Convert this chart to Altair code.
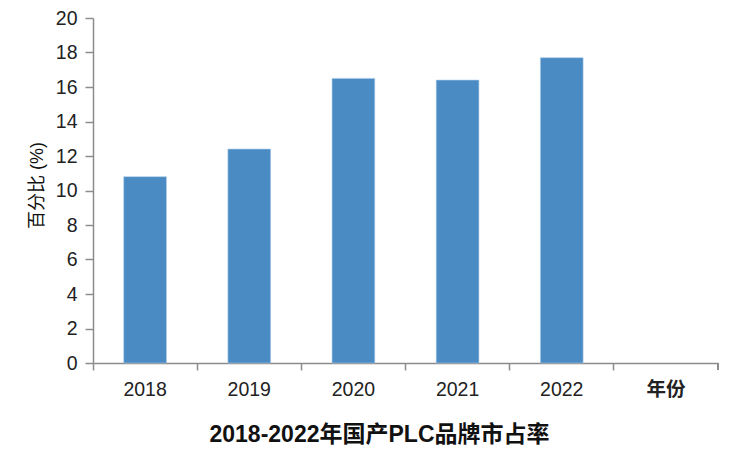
import altair as alt
import pandas as pd

categories = ["2018", "2019", "2020", "2021", "2022", "年份"]
years = ["2018", "2019", "2020", "2021", "2022"]
shares = [10.8, 12.4, 16.5, 16.4, 17.7]
y_ticks = [0, 2, 4, 6, 8, 10, 12, 14, 16, 18, 20]

df = pd.DataFrame({"year": years, "share": shares})

FONT = "Liberation Sans, Noto Sans CJK SC, sans-serif"
AXIS_COLOR = "#8c8c8c"
W, H = 625, 345

bars = alt.Chart(df).mark_bar(
    width=alt.RelativeBandSize(0.41),
    color="#4a8bc3",
    stroke="#a9c9e8",
    strokeWidth=0.6,
).encode(
    x=alt.X(
        "year:N",
        scale=alt.Scale(domain=categories, paddingInner=0, paddingOuter=0),
        sort=categories,
        axis=alt.Axis(
            title="2018-2022年国产PLC品牌市占率",
            titleFontSize=23,
            titleFontWeight="bold",
            titleColor="#111111",
            titlePadding=25,
            titleX=286,
            labelAngle=0,
            labelFontSize=19.5,
            labelColor="#222222",
            labelPadding=10,
            labelFontWeight={"condition": {"test": "datum.value === '年份'", "value": "bold"}, "value": "normal"},
            bandPosition=0,
            tickSize=7,
            tickColor=AXIS_COLOR,
            domainColor=AXIS_COLOR,
            tickWidth=1.5,
            domainWidth=1.5,
            grid=False,
        ),
    ),
    y=alt.Y(
        "share:Q",
        scale=alt.Scale(domain=[0, 20], nice=False),
        axis=alt.Axis(
            title="百分比 (%)",
            values=y_ticks,
            titleFontSize=18,
            titleFontWeight="normal",
            titleColor="#111111",
            titlePadding=9,
            titleY=167,
            labelFontSize=19.5,
            labelColor="#222222",
            labelPadding=8,
            tickSize=8,
            tickColor=AXIS_COLOR,
            domainColor=AXIS_COLOR,
            tickWidth=1.5,
            domainWidth=1.5,
            grid=False,
        ),
    ),
)

end_tick = alt.Chart(df).mark_rule(color=AXIS_COLOR, strokeWidth=1.5).encode(
    x=alt.value(W), y=alt.value(H), y2=alt.value(H + 7)
)

chart = alt.layer(bars, end_tick).properties(
    width=W,
    height=H,
    autosize=alt.AutoSizeParams(type="none"),
    padding={"left": 93, "top": 18, "right": 11, "bottom": 97},
).configure(font=FONT).configure_view(stroke=None)

chart.save("out.html", embed_options={"renderer": "svg", "actions": False})
